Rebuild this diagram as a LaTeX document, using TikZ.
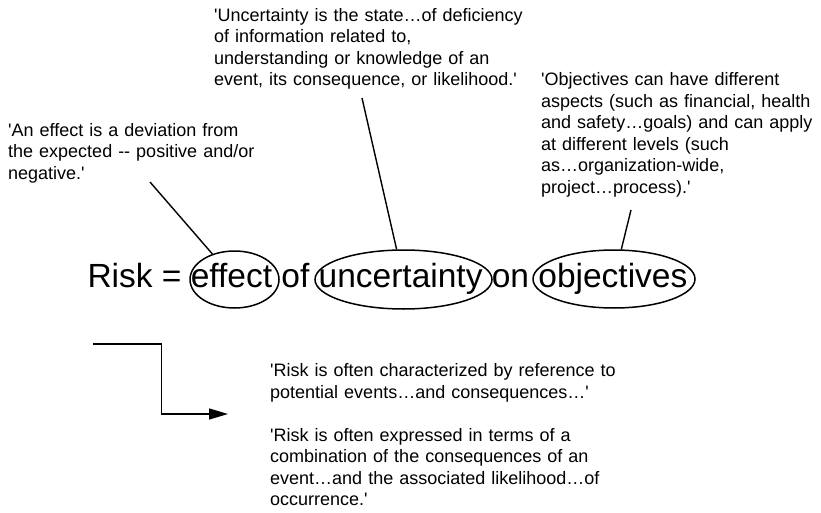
\documentclass[tikz,border=0pt]{standalone}
\usepackage{fontspec}
\usetikzlibrary{shapes.geometric,arrows.meta}
\newfontfamily\notefont{Liberation Sans}[Ligatures=TeXOff]
\newfontfamily\headfont{Liberation Sans}[Ligatures=TeXOff]
\begin{document}
\begin{tikzpicture}[x=1pt,y=-1pt,
  note/.style={font=\notefont\fontsize{18}{21.5}\selectfont, align=left,
    text width=420pt, inner sep=0pt, anchor=base west},
  term/.style={ellipse, draw, line width=1.5pt, inner sep=0pt},
  link/.style={line width=1.4pt},
]
\useasboundingbox (0,0) rectangle (821,513);

% the definition itself
\node[inner sep=0pt, anchor=base west, font=\headfont\fontsize{33.5}{40}\selectfont]
  (eq) at (87.3,287) {Risk = effect of uncertainty on objectives};

% circled key terms
\node[term, minimum width=89pt, minimum height=57pt] (effect) at (234.5,279.5) {};
\node[term, minimum width=177pt, minimum height=59pt] (uncert) at (403.5,279.5) {};
\node[term, minimum width=162pt, minimum height=58pt] (object) at (614,279) {};

% explanatory notes
\node[note] (n-effect) at (8,136.5)
  {'An effect is a deviation from\\the expected -{}- positive and/or\\negative.'};
\node[note] (n-uncert) at (214,21.5)
  {'Uncertainty is the state…of deficiency\\of information related to,\\understanding or knowledge of an\\event, its consequence, or likelihood.'};
\node[note] (n-object) at (541,86)
  {'Objectives can have different\\aspects (such as financial, health\\and safety…goals) and can apply\\at different levels (such\\as…organization-wide,\\project…process).'};
\node[note] (n-risk) at (270,376.5)
  {'Risk is often characterized by reference to\\potential events…and consequences…'\\[21.5pt]'Risk is often expressed in terms of a\\combination of the consequences of an\\event…and the associated likelihood…of\\occurrence.'};

% leader lines from the notes to the terms
\coordinate (l-effect) at (150,182);
\coordinate (l-uncert) at (362,98);
\coordinate (l-object) at (631,210);
\draw[link] (l-effect) -- (effect);
\draw[link] (l-uncert) -- (uncert);
\draw[link] (l-object) -- (object);

% elbow arrow pointing to the risk notes
\coordinate (a-start) at (93,344);
\coordinate (a-end) at (228,414);
\draw[link, -{Triangle[length=19pt,width=11pt]}] (a-start) -- ++(68.5,0) |- (a-end);
\end{tikzpicture}
\end{document}
